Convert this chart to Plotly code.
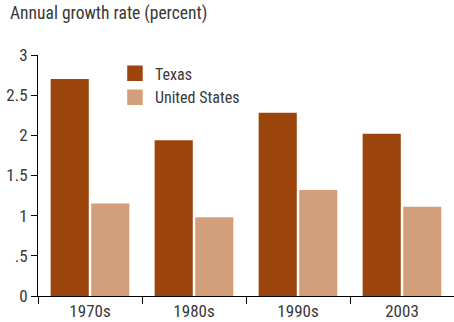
import plotly.graph_objects as go

# Annual growth rate (percent) by period
periods = ["1970s", "1980s", "1990s", "2003"]
texas = [2.70, 1.94, 2.28, 2.02]
united_states = [1.15, 0.98, 1.32, 1.11]

y_tick_vals = [0, 0.5, 1, 1.5, 2, 2.5, 3]
y_tick_text = ["0", ".5", "1", "1.5", "2", "2.5", "3"]

texas_color = "#9b440b"
us_color = "#d39f7b"
ink = "#383838"
font_family = "Liberation Sans Narrow, Arial Narrow, Roboto Condensed, sans-serif"

fig = go.Figure()
series = [("Texas", texas, texas_color), ("United States", united_states, us_color)]
for name, values, color in series:
    fig.add_trace(go.Bar(x=periods, y=values, name=name, showlegend=False,
                         marker=dict(color=color, line=dict(width=0))))
# legend keys drawn as large square swatches
for name, values, color in series:
    fig.add_trace(go.Scatter(x=[None], y=[None], mode="markers", name=name,
                             marker=dict(symbol="square", size=15.5, color=color,
                                         line=dict(width=0))))

fig.update_layout(
    width=454, height=322,
    margin=dict(l=38, r=0, t=55, b=26),
    paper_bgcolor="white", plot_bgcolor="white",
    font=dict(family=font_family, size=17, color=ink),
    barmode="group", bargap=0.22, bargroupgap=0.06,
    title=dict(text="Annual growth rate (percent)", x=10 / 454, xanchor="left",
               xref="container", y=1 - 7 / 322, yanchor="top", yref="container",
               font=dict(family=font_family, size=17.5, color=ink)),
    legend=dict(x=0.185, y=0.994, xanchor="left", yanchor="top",
                bgcolor="rgba(0,0,0,0)", font=dict(size=16, color=ink),
                itemwidth=30, itemsizing="trace"),
    showlegend=True,
)
fig.update_xaxes(showline=True, linecolor="black", linewidth=1,
                 ticks="outside", tickson="boundaries", ticklen=7,
                 tickcolor="black", showgrid=False, zeroline=False,
                 tickfont=dict(size=17, color=ink))
fig.update_yaxes(range=[0, 3], showline=True, linecolor="black", linewidth=1,
                 ticks="outside", ticklen=6, tickcolor="black",
                 tickvals=y_tick_vals, ticktext=y_tick_text,
                 showgrid=False, zeroline=False,
                 tickfont=dict(size=17, color=ink))

fig.write_html("out.html")
